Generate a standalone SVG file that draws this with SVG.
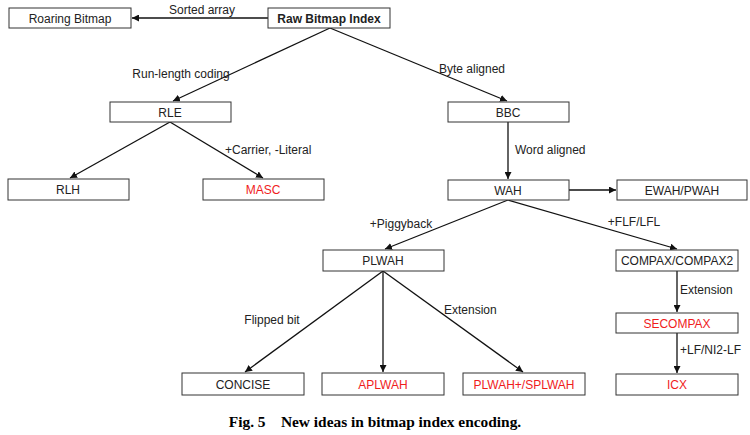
<svg xmlns="http://www.w3.org/2000/svg" width="750" height="435" viewBox="0 0 750 435">
<defs>
<marker id="ah" viewBox="0 0 10 10" refX="10" refY="5" markerWidth="7" markerHeight="7" markerUnits="userSpaceOnUse" orient="auto">
<path d="M0,0 L10,5 L0,10 z" fill="#111"/>
</marker>
<style>
.n rect{fill:#fff;stroke:#333;stroke-width:1}
.n text{font-family:"Liberation Sans",Arial,sans-serif;font-size:12px;fill:#222;text-anchor:middle}
.n text.r{fill:#f01c1c}
.n text.b{font-weight:bold}
.c line{stroke:#111;stroke-width:1.3;marker-end:url(#ah)}
.l{font-family:"Liberation Sans",Arial,sans-serif;font-size:12px;fill:#222}
.cap{font-family:"Liberation Serif","Times New Roman",serif;font-size:15.4px;font-weight:bold;fill:#000;text-anchor:middle}
</style>
</defs>
<rect width="750" height="435" fill="#fff"/>
<g class="c">
<line x1="268" y1="18" x2="132" y2="18"/>
<line x1="330" y1="28" x2="173" y2="101"/>
<line x1="330" y1="28" x2="507" y2="101"/>
<line x1="170" y1="122" x2="70" y2="178"/>
<line x1="170" y1="122" x2="263" y2="178"/>
<line x1="508" y1="122" x2="508" y2="179"/>
<line x1="569" y1="190" x2="616" y2="190"/>
<line x1="508" y1="200" x2="385" y2="249"/>
<line x1="508" y1="200" x2="677" y2="249"/>
<line x1="383" y1="271" x2="245" y2="372"/>
<line x1="383" y1="271" x2="383" y2="372"/>
<line x1="383" y1="271" x2="523" y2="372"/>
<line x1="677" y1="271" x2="677" y2="312"/>
<line x1="677" y1="333" x2="677" y2="373"/>
</g>
<g id="labels">
<text class="l" x="202" y="14" text-anchor="middle">Sorted array</text>
<text class="l" x="181" y="78" text-anchor="middle">Run-length coding</text>
<text class="l" x="472" y="73" text-anchor="middle">Byte aligned</text>
<text class="l" x="515" y="154">Word aligned</text>
<text class="l" x="225" y="154">+Carrier, -Literal</text>
<text class="l" x="401" y="228" text-anchor="middle">+Piggyback</text>
<text class="l" x="634" y="226" text-anchor="middle">+FLF/LFL</text>
<text class="l" x="680" y="294">Extension</text>
<text class="l" x="680" y="354">+LF/NI2-LF</text>
<text class="l" x="272" y="324" text-anchor="middle">Flipped bit</text>
<text class="l" x="444" y="314">Extension</text>
</g>
<g id="roaring" class="n"><rect x="9" y="8" width="122" height="20"/><text x="70" y="22.5">Roaring Bitmap</text></g>
<g id="raw" class="n"><rect x="268" y="8" width="122" height="20"/><text class="b" x="329" y="22.5">Raw Bitmap Index</text></g>
<g id="rle" class="n"><rect x="110" y="102" width="121" height="20"/><text x="170" y="116.5">RLE</text></g>
<g id="bbc" class="n"><rect x="448" y="102" width="121" height="20"/><text x="508" y="116.5">BBC</text></g>
<g id="rlh" class="n"><rect x="8" y="179" width="121" height="21"/><text x="68" y="194">RLH</text></g>
<g id="masc" class="n"><rect x="203" y="179" width="121" height="21"/><text class="r" x="263" y="194">MASC</text></g>
<g id="wah" class="n"><rect x="448" y="180" width="121" height="20"/><text x="508" y="194.5">WAH</text></g>
<g id="ewah" class="n"><rect x="617" y="180" width="130" height="20"/><text x="682" y="194.5">EWAH/PWAH</text></g>
<g id="plwah" class="n"><rect x="323" y="250" width="121" height="21"/><text x="383" y="265">PLWAH</text></g>
<g id="compax" class="n"><rect x="616" y="250" width="122" height="21"/><text x="677" y="265">COMPAX/COMPAX2</text></g>
<g id="secompax" class="n"><rect x="616" y="313" width="122" height="20"/><text class="r" x="677" y="327.5">SECOMPAX</text></g>
<g id="concise" class="n"><rect x="182" y="373" width="122" height="22"/><text x="243" y="388.5">CONCISE</text></g>
<g id="aplwah" class="n"><rect x="322" y="373" width="122" height="22"/><text class="r" x="383" y="388.5">APLWAH</text></g>
<g id="plwahplus" class="n"><rect x="463" y="373" width="122" height="22"/><text class="r" x="524" y="388.5">PLWAH+/SPLWAH</text></g>
<g id="icx" class="n"><rect x="616" y="374" width="122" height="21"/><text class="r" x="677" y="389">ICX</text></g>
<text class="cap" x="375" y="427" xml:space="preserve">Fig. 5    New ideas in bitmap index encoding.</text>
</svg>
